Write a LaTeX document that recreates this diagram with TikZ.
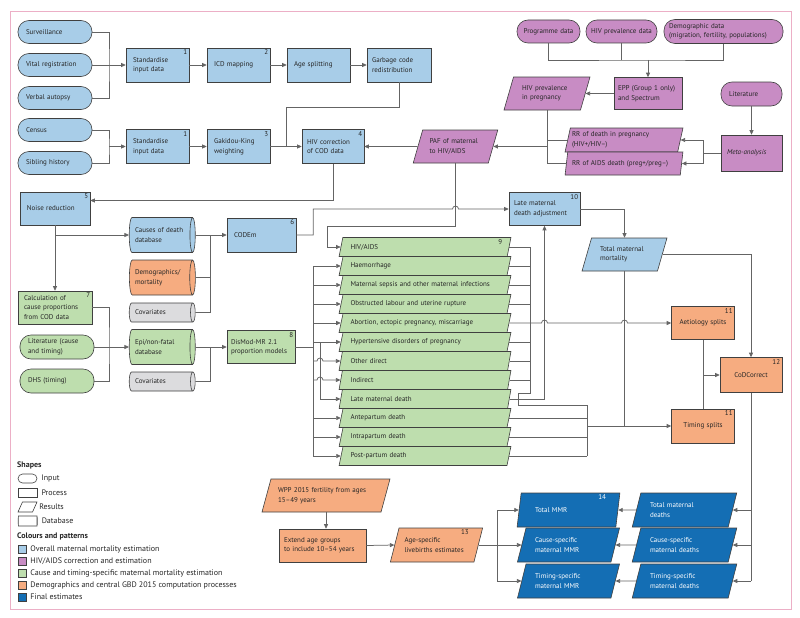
\documentclass[tikz,border=0pt]{standalone}
\usepackage{fontspec}
\setmainfont{PT Sans}
\usetikzlibrary{shapes.geometric,arrows.meta,positioning}

\definecolor{ovblue}{RGB}{168,205,232}
\definecolor{hivpurple}{RGB}{200,140,196}
\definecolor{ctgreen}{RGB}{190,222,174}
\definecolor{demorange}{RGB}{246,172,128}
\definecolor{finblue}{RGB}{20,110,180}
\definecolor{covgrey}{RGB}{220,220,222}
\definecolor{edgegrey}{RGB}{64,64,64}
\definecolor{linegrey}{RGB}{100,100,100}
\definecolor{framepink}{RGB}{236,175,198}

\hyphenpenalty=10000
\exhyphenpenalty=10000
\newcommand{\figfont}{\fontsize{7}{9.5}\selectfont}
\newcommand{\legfont}{\fontsize{8}{10}\selectfont}

\tikzset{
  every node/.style={font=\figfont, text=black!85},
  shp/.style={draw=edgegrey, line width=0.6pt},
  proc/.style={shp, rectangle, minimum height=34pt, inner xsep=7pt, inner ysep=2pt, text width=#1, align=left},
  proc/.default=49pt,
  inpt/.style={shp, rectangle, rounded corners=11pt, minimum height=23pt, inner xsep=8pt, inner ysep=1pt, text width=#1, align=left},
  inpt/.default=58pt,
  res/.style 2 args={shp, trapezium, trapezium left angle=66, trapezium right angle=114, trapezium stretches=true, minimum width=#1, minimum height=34pt, inner xsep=3pt, inner ysep=1pt, text width=#2, align=left},
  dbase/.style={shp, cylinder, aspect=0.25, minimum height=66pt, minimum width=35pt, inner xsep=4pt, text width=50pt, align=left},
  num/.style={label={[font=\figfont, anchor=north east, inner sep=2pt]north east:#1}},
  resnum/.style={anchor=north east, inner sep=2pt},
  conn/.style={draw=linegrey, line width=0.75pt},
  arr/.style={conn, -{Triangle[length=4.5pt,width=4pt]}},
}

\begin{document}
\begin{tikzpicture}[x=1pt, y=-1pt]
  \useasboundingbox (0,0) rectangle (800,618);
  \draw[framepink, line width=0.8pt] (10,11) rectangle (791,609);

  % Overall maternal mortality (inputs and processes)
  \node[inpt, fill=ovblue] (surv) at (55,32) {Surveillance};
  \node[inpt, fill=ovblue] (vital) at (55,65) {Vital registration};
  \node[inpt, fill=ovblue] (verbal) at (55,98) {Verbal autopsy};
  \node[inpt, fill=ovblue] (census) at (55,130) {Census};
  \node[inpt, fill=ovblue] (sibling) at (55,163) {Sibling history};

  \node[proc, fill=ovblue, num=1] (stdA) at (157.5,65) {Standardise\\input data};
  \node[proc, fill=ovblue, num=2] (icd) at (238.5,65) {ICD mapping};
  \node[proc, fill=ovblue] (agesplit) at (318.5,65) {Age splitting};
  \node[proc=54pt, fill=ovblue, inner xsep=5pt] (garbage) at (399,65) {Garbage code\\redistribution};
  \node[proc, fill=ovblue, num=1] (stdB) at (157.5,146.5) {Standardise\\input data};
  \node[proc, fill=ovblue, num=3] (gakidou) at (238.5,146.5) {Gakidou-King\\weighting};
  \node[proc=52pt, fill=ovblue, num=4, inner xsep=5pt] (hivcorr) at (333,146.5) {HIV correction\\of COD data};
  \node[proc=56pt, fill=ovblue, num=5, minimum height=33pt] (noise) at (55,208.5) {Noise reduction};
  \node[proc=55pt, fill=ovblue, num=6] (codem) at (261.5,235) {CODEm};
  \node[proc=61pt, fill=ovblue, num=10, minimum height=33pt, inner xsep=5pt] (lateadj) at (544.5,209) {Late maternal\\death adjustment};
  \node[res={85pt}{49pt}, fill=ovblue, minimum height=33pt] (totmort) at (624.5,254.5) {Total maternal\\mortality};

  \node[dbase, fill=ovblue] (coddb) at (160,235) {Causes of death\\database};
  \node[dbase, fill=demorange] (demodb) at (160,277.5) {Demographics/\\mortality};
  \node[dbase, fill=covgrey, minimum width=19pt, aspect=0.4] (covA) at (160,312.5) {Covariates};

  % HIV/AIDS correction
  \node[inpt=59pt, fill=hivpurple, align=center, inner xsep=2pt] (prog) at (548.5,31.5) {Programme data};
  \node[inpt=67pt, fill=hivpurple, align=center, inner xsep=2pt] (hivdata) at (621.5,31.5) {HIV prevalence data};
  \node[inpt=109pt, fill=hivpurple, minimum height=24pt, inner xsep=5pt] (demog) at (723.5,31.5) {Demographic data\\(migration, fertility, populations)};
  \node[proc=60pt, fill=hivpurple, minimum height=32pt, inner xsep=4pt] (epp) at (648,93.5) {EPP (Group 1 only)\\and Spectrum};
  \node[res={86pt}{50pt}, fill=hivpurple, minimum height=33pt] (hivpreg) at (547,93.5) {HIV prevalence\\in pregnancy};
  \node[inpt=45pt, fill=hivpurple, minimum height=24pt] (litA) at (751.5,94) {Literature};
  \node[proc=49pt, fill=hivpurple, minimum height=36pt, inner xsep=6pt, font=\figfont\itshape] (meta) at (751.5,153) {Meta-analysis};
  \node[res={118pt}{104pt}, fill=hivpurple, minimum height=24pt, inner xsep=0pt, trapezium left angle=74, trapezium right angle=106] (rrpreg) at (624,140) {RR of death in pregnancy\\(HIV+/HIV–)};
  \node[res={118pt}{104pt}, fill=hivpurple, minimum height=23pt, inner xsep=0pt, trapezium left angle=74, trapezium right angle=106] (rraids) at (624,163.5) {RR of AIDS death (preg+/preg–)};
  \node[res={85pt}{52pt}, fill=hivpurple, minimum height=33pt, inner xsep=1pt] (paf) at (455.5,146.5) {PAF of maternal\\to HIV/AIDS};

  % Cause and timing
  \node[proc=62pt, fill=ctgreen, num=7, minimum height=33pt, inner xsep=6pt] (calc) at (55,307.5) {Calculation of\\cause proportions\\from COD data};
  \node[inpt, fill=ctgreen, minimum height=24pt] (litB) at (57,347) {Literature (cause\\and timing)};
  \node[inpt, fill=ctgreen, minimum height=24pt] (dhs) at (57,381) {DHS (timing)};
  \node[dbase, fill=ctgreen] (epidb) at (160,347) {Epi/non-fatal\\database};
  \node[dbase, fill=covgrey, minimum width=19pt, aspect=0.4] (covB) at (160,381.5) {Covariates};
  \node[proc=60pt, fill=ctgreen, num=8, minimum height=33pt, inner xsep=4pt] (dismod) at (261,347) {DisMod-MR 2.1\\proportion models};

  \foreach \nm/\txt [count=\i from 0] in {g1/{HIV/AIDS}, g2/Haemorrhage, g3/Maternal sepsis and other maternal infections, g4/Obstructed labour and uterine rupture, g5/{Abortion, ectopic pregnancy, miscarriage}, g6/Hypertensive disorders of pregnancy, g7/Other direct, g8/Indirect, g9/Late maternal death, g10/Antepartum death, g11/Intrapartum death, g12/Post-partum death}
    \node[res={172pt}{149pt}, fill=ctgreen, minimum height=19pt] (\nm) at (425,247+19*\i) {\txt};
  \node[resnum] (n9) at ([xshift=-7pt]g1.top right corner) {9};

  % Demographics and central computation
  \node[proc, fill=demorange, num=11, minimum height=33pt, align=center] (aet) at (703,323) {Aetiology splits};
  \node[proc, fill=demorange, num=11, align=center] (timsplit) at (703,426) {Timing splits};
  \node[proc=48pt, fill=demorange, num=12, minimum height=35pt, align=center] (codc) at (751,375) {CoDCorrect};
  \node[res={128pt}{96pt}, fill=demorange, minimum height=33pt, inner xsep=1pt] (wpp) at (326,495.5) {WPP 2015 fertility from ages\\15–49 years};
  \node[proc=77pt, fill=demorange, minimum height=33pt, inner xsep=5pt] (extend) at (322.5,545.5) {Extend age groups\\to include 10–54 years};
  \node[res={93pt}{64pt}, fill=demorange, inner xsep=0pt] (agesp) at (436.5,545) {Age-specific\\livebirths estimates};
  \node[resnum] (n13) at ([xshift=-12pt]agesp.top right corner) {13};

  % Final estimates
  \node[res={103pt}{67pt}, fill=finblue, text=white] (totmmr) at (568.5,510) {Total MMR};
  \node[resnum, text=white] (n14) at ([xshift=-12pt]totmmr.top right corner) {14};
  \node[res={103pt}{67pt}, fill=finblue, text=white] (causemmr) at (568.5,545) {Cause-specific\\maternal MMR};
  \node[res={103pt}{67pt}, fill=finblue, text=white] (timemmr) at (568.5,581) {Timing-specific\\maternal MMR};
  \node[res={105pt}{69pt}, fill=finblue, text=white] (totdeath) at (684.5,510) {Total maternal\\deaths};
  \node[res={105pt}{69pt}, fill=finblue, text=white] (causedeath) at (684.5,545) {Cause-specific\\maternal deaths};
  \node[res={105pt}{69pt}, fill=finblue, text=white] (timedeath) at (684.5,581) {Timing-specific\\maternal deaths};

  % Connectors, top rows
  \coordinate (jA) at (109,65);
  \coordinate (jB) at (109,146.5);
  \coordinate (jG) at (286,146.5);
  \draw[conn] (surv.east) -| (jA) |- (verbal.east);
  \draw[arr] (vital.east) -- (stdA.west);
  \draw[conn] (census.east) -| (jB) |- (sibling.east);
  \draw[arr] (jB) -- (stdB.west);
  \draw[arr] (stdA.east) -- (icd.west);
  \draw[arr] (icd.east) -- (agesplit.west);
  \draw[arr] (agesplit.east) -- (garbage.west);
  \draw[arr] (stdB.east) -- (gakidou.west);
  \draw[arr] (gakidou.east) -- (hivcorr.west);
  \draw[conn] (garbage.south) -- ++(0,25) -| (jG);
  \draw[arr] (paf.west) -- (hivcorr.east);
  \draw[arr] (hivcorr.south) |- ([yshift=8pt]noise.east);

  % Connectors, HIV/AIDS
  \coordinate (jE) at (648,60);
  \coordinate (jP) at (547,146.5);
  \coordinate (jM) at (703,153);
  \draw[conn] (prog.south) |- (jE) -| (demog.south);
  \draw[conn] (hivdata.south) -- (hivdata.south |- jE);
  \draw[arr] (jE) -- (epp.north);
  \draw[arr] (epp.west) -- (hivpreg.east);
  \draw[conn] (hivpreg.south) |- (rraids.west);
  \draw[conn] (rrpreg.west) -- (rrpreg.west -| jP);
  \draw[arr] (jP) -- (paf.east);
  \draw[arr] (litA.south) -- (meta.north);
  \draw[conn] (meta.west) -- (jM);
  \draw[arr] (jM) |- (rrpreg.east);
  \draw[arr] (jM) |- (rraids.east);

  % Connectors, databases and models
  \coordinate (jC) at (210,235);
  \coordinate (jL) at (109,347);
  \coordinate (jD) at (210,347);
  \draw[arr] (noise.south) -- (calc.north);
  \draw[arr] (noise.south |- coddb.west) -- (coddb.west);
  \draw[conn] (coddb.east) -| (jC |- covA.east) -- (covA.east);
  \draw[conn] (demodb.east) -- (demodb.east -| jC);
  \draw[arr] (jC) -- (codem.west);
  \draw[arr] (codem.east) -- ++(17,0) |- ([xshift=-3pt]paf.south |- lateadj.west) arc[start angle=180, end angle=360, radius=3] -- (lateadj.west);
  \draw[arr] (paf.south) |- (327,226) |- (g1.west);
  \draw[conn] (calc.east) -| (jL) |- (dhs.east);
  \draw[arr] (litB.east) -- (epidb.west);
  \draw[conn] (epidb.east) -| (jD |- covB.east) -- (covB.east);
  \draw[arr] (jD) -- (dismod.west);

  % DisMod to causes
  \coordinate (jR) at (313,347);
  \coordinate (jS) at (320,342);
  \draw[conn] (dismod.east) -- (jR);
  \draw[conn] (g2.west -| jR) -- (g12.west -| jR);
  \foreach \g in {g2,g3,g4,g5,g6,g10,g11,g12}
    \draw[arr] (\g.west -| jR) -- (\g.west);
  \draw[arr] (jS) |- (g9.west);
  \foreach \g in {g7,g8}
    \draw[arr] (\g.west -| jR) -- ([xshift=-3pt]\g.west -| jS) arc[start angle=180, end angle=360, radius=3] -- (\g.west);

  % Causes to splits
  \coordinate (jT) at (530,393);
  \coordinate (jU) at (587,426);
  \foreach \g in {g1,g2,g3,g4,g6,g7,g8}
    \draw[conn] (\g.east) -- (\g.east -| jT);
  \draw[conn] (g1.east -| jT) -- (jT) -| ++(-12,12) -| (g12.east -| jU);
  \draw[arr] (g5.east) -- ([xshift=-3pt]g5.east -| lateadj.south) arc[start angle=180, end angle=360, radius=3] -- ([xshift=-3pt]g5.east -| totmort.south) arc[start angle=180, end angle=360, radius=3] -- (aet.west);
  \draw[arr] (g9.east) -| (lateadj.south);
  \foreach \g in {g10,g11,g12}
    \draw[conn] (\g.east) -- (\g.east -| jU);
  \draw[arr] (jU) -- (timsplit.west);
  \draw[conn] (totmort.south) -- (totmort.south |- jU);
  \draw[arr] (lateadj.east) -| (totmort.north);
  \draw[arr] (totmort.east) -| (codc.north);
  \draw[conn] (aet.south) -- (timsplit.north);
  \draw[arr] (aet.south |- codc.west) -- (codc.west);

  % Final estimates
  \coordinate (jF) at (497,545);
  \draw[conn] (codc.south) -- (codc.south |- timedeath.east);
  \foreach \d in {totdeath,causedeath,timedeath}
    \draw[arr] (codc.south |- \d.east) -- (\d.east);
  \draw[arr] (totdeath.west) -- (totmmr.east);
  \draw[arr] (causedeath.west) -- (causemmr.east);
  \draw[arr] (timedeath.west) -- (timemmr.east);
  \draw[arr] (wpp.south) -- (wpp.south |- extend.north);
  \draw[arr] (extend.east) -- (agesp.west);
  \draw[conn] (agesp.east) -- (jF);
  \draw[conn] (jF |- totmmr.west) -- (jF |- timemmr.west);
  \foreach \m in {totmmr,causemmr,timemmr}
    \draw[arr] (jF |- \m.west) -- (\m.west);

  % Legend
  \node[anchor=west, inner sep=0pt, font=\legfont\bfseries] (shapes) at (17,465) {Shapes};
  \node[shp, rectangle, rounded corners=4.5pt, minimum width=19pt, minimum height=9pt, inner sep=0pt] (lin) at (27.5,478.5) {};
  \node[right=4pt of lin, inner sep=0pt, font=\legfont] (lintxt) {Input};
  \node[shp, rectangle, minimum width=19pt, minimum height=9pt, inner sep=0pt] (lpr) at (27.5,492.5) {};
  \node[right=4pt of lpr, inner sep=0pt, font=\legfont] (lprtxt) {Process};
  \node[shp, trapezium, trapezium left angle=66, trapezium right angle=114, trapezium stretches=true, minimum width=19pt, minimum height=10pt, inner sep=0.5pt] (lres) at (27.5,507) {};
  \node[right=4pt of lres, inner sep=0pt, font=\legfont] (lrestxt) {Results};
  \node[shp, cylinder, aspect=0.3, minimum height=19pt, minimum width=10pt, inner sep=0.5pt] (ldb) at (27.5,521) {};
  \node[right=4pt of ldb, inner sep=0pt, font=\legfont] (ldbtxt) {Database};
  \node[anchor=west, inner sep=0pt, font=\legfont\bfseries] (colours) at (17,536) {Colours and patterns};
  \foreach \c/\t [count=\k from 0] in {ovblue/Overall maternal mortality estimation, hivpurple/{HIV/AIDS correction and estimation}, ctgreen/Cause and timing-specific maternal mortality estimation, demorange/Demographics and central GBD 2015 computation processes, finblue/Final estimates} {
    \node[shp, fill=\c, minimum size=8pt, inner sep=0pt] (col\k) at (22,549+12*\k) {};
    \node[right=4pt of col\k, inner sep=0pt, font=\legfont] (coltxt\k) {\t};
  }
\end{tikzpicture}
\end{document}
